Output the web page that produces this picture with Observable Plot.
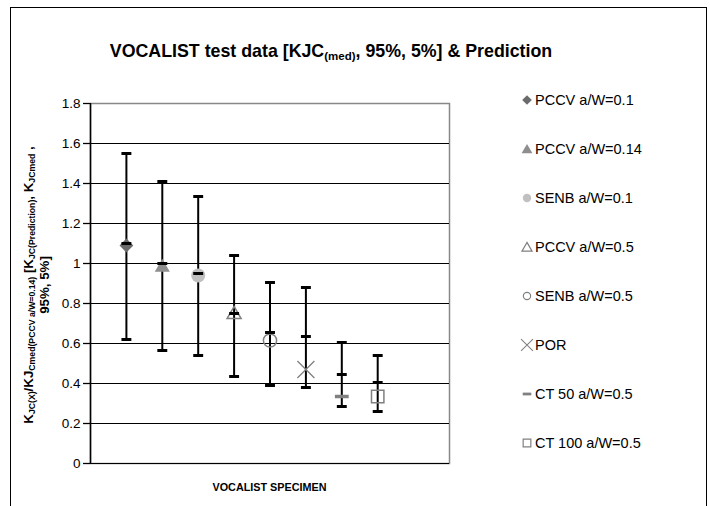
<!DOCTYPE html>
<html>
<head>
<meta charset="utf-8">
<script src="https://cdn.jsdelivr.net/npm/d3@7"></script>
<script src="https://cdn.jsdelivr.net/npm/@observablehq/plot@0.6"></script>
<style>
  body { margin: 0; background: #fff; font-family: "Liberation Sans", Arial, sans-serif; }
  #chart { position: relative; width: 710px; height: 506px; overflow: hidden; }
  #plot { position: absolute; left: 0; top: 0; }
  #frame { position: absolute; left: 10px; top: 7px; width: 697px; height: 540px;
           border: 1.5px solid #000; box-sizing: border-box; }
  #title { position: absolute; left: 0; width: 662px; top: 41px; text-align: center;
           font-weight: bold; font-size: 17.8px; white-space: nowrap; }
  #title sub { font-size: 11.5px; vertical-align: -3px; }
  #ylabel { position: absolute; left: 37px; top: 285px; width: 340px;
            transform: translate(-50%, -50%) rotate(-90deg);
            text-align: center; font-weight: bold; font-size: 13.3px; line-height: 16px; white-space: nowrap; }
  #ylabel sub { font-size: 8.7px; vertical-align: -2px; line-height: 0; }
  #xlabel { position: absolute; left: 90px; width: 359px; top: 481px; text-align: center;
            font-weight: bold; font-size: 10.8px; }
  #legend { position: absolute; left: 519px; top: 75px; font-size: 14.5px; }
  #legend .item { display: flex; align-items: center; height: 49px; }
  #legend svg { display: block; width: 16px; height: 16px; }
</style>
</head>
<body>
<div id="chart">
  <div id="plot"></div>
  <div id="frame"></div>
  <div id="title">VOCALIST test data [KJC<sub>(med)</sub>, 95%, 5%] &amp; Prediction</div>
  <div id="ylabel">K<sub>JC(X)</sub>/KJ<sub>Cmed(PCCV a/W=0.14)</sub> [K<sub>JC(Prediction)</sub>, K<sub>JCmed</sub> ,<br>95%, 5%]</div>
  <div id="xlabel">VOCALIST SPECIMEN</div>
  <div id="legend"></div>
</div>
<script>
// Specimen types along the x axis (positions 1..8)
const specimens = ["PCCV a/W=0.1", "PCCV a/W=0.14", "SENB a/W=0.1", "PCCV a/W=0.5",
                   "SENB a/W=0.5", "POR", "CT 50 a/W=0.5", "CT 100 a/W=0.5"];
// Normalised test data: median, 95% and 5% bounds
const testMedian = [1.09, 0.99, 0.94, 0.755, 0.615, 0.47, 0.335, 0.335];
const upper95    = [1.55, 1.41, 1.335, 1.04, 0.905, 0.88, 0.605, 0.54];
const lower5     = [0.62, 0.565, 0.54, 0.435, 0.39, 0.38, 0.285, 0.26];
// Predicted values
const prediction = [1.10, 1.00, 0.95, 0.75, 0.655, 0.635, 0.445, 0.405];
// y axis ticks
const yTicks = [0, 0.2, 0.4, 0.6, 0.8, 1, 1.2, 1.4, 1.6, 1.8];

// short horizontal bar symbol, used for caps, prediction ticks and the CT 50 marker
const dash = {
  draw(ctx, size) {
    const w = Math.sqrt(size);
    ctx.moveTo(-w / 2, 0);
    ctx.lineTo(w / 2, 0);
  }
};

// marker style per specimen type
const markerStyles = [
  {symbol: "diamond2", fill: "#6b6b6b", stroke: "none", r: 6.2},
  {symbol: "triangle", fill: "#8e8e8e", stroke: "none", r: 5.6, dy: 2},
  {symbol: "circle",   fill: "#c0c0c0", stroke: "none", r: 7},
  {symbol: "triangle", fill: "none", stroke: "#808080", strokeWidth: 1.5, r: 5.2, dy: 2},
  {symbol: "circle",   fill: "none", stroke: "#808080", strokeWidth: 1.5, r: 6.6},
  {symbol: "times",    fill: "none", stroke: "#808080", strokeWidth: 1.3, r: 7.8},
  {symbol: dash,       fill: "none", stroke: "#808080", strokeWidth: 3.5, r: 7.8},
  {symbol: "square",   fill: "none", stroke: "#808080", strokeWidth: 1.5, r: 7}
];
const d3Symbols = {
  diamond2: d3.symbolDiamond2, triangle: d3.symbolTriangle, circle: d3.symbolCircle,
  times: d3.symbolTimes, square: d3.symbolSquare
};

const rows = specimens.map((name, i) => ({
  name, pos: i + 1, med: testMedian[i], hi: upper95[i], lo: lower5[i], pred: prediction[i]
}));

const plot = Plot.plot({
  width: 710,
  height: 506,
  marginLeft: 90,
  marginRight: 261,
  marginTop: 103,
  marginBottom: 43,
  x: {domain: [0, 10], axis: null},
  y: {domain: [0, 1.8], axis: null},
  style: {fontFamily: "'Liberation Sans', Arial, sans-serif", fontSize: "13.5px", color: "#000", background: "transparent", overflow: "visible"},
  marks: [
    Plot.frame({stroke: "#888", strokeWidth: 1.5}),
    Plot.ruleY(yTicks.slice(0, -1), {stroke: "#000", strokeWidth: 1.2}),
    Plot.ruleX([0], {stroke: "#000", strokeWidth: 1.5}),
    Plot.axisY(yTicks, {tickSize: 7, tickPadding: 3, tickFormat: d3.format("~g"), strokeWidth: 1.3, label: null}),
    // 5%–95% range bars with caps
    Plot.ruleX(rows, {x: "pos", y1: "lo", y2: "hi", stroke: "#000", strokeWidth: 2}),
    Plot.dot(rows, {x: "pos", y: "hi", symbol: dash, r: 5.6, stroke: "#000", strokeWidth: 3}),
    Plot.dot(rows, {x: "pos", y: "lo", symbol: dash, r: 5.6, stroke: "#000", strokeWidth: 3}),
    // test medians
    ...rows.map((d, i) => Plot.dot([d], {x: "pos", y: "med", ...markerStyles[i]})),
    // predictions
    Plot.dot(rows, {x: "pos", y: "pred", symbol: dash, r: 5.6, stroke: "#000", strokeWidth: 3})
  ]
});
document.getElementById("plot").appendChild(plot);

// legend
const legend = d3.select("#legend");
const legendScale = [0.7, 0.72, 0.6, 0.72, 0.55, 0.7, 0.62, 0.62];
specimens.forEach((name, i) => {
  const s = markerStyles[i];
  const type = typeof s.symbol === "string" ? d3Symbols[s.symbol] : s.symbol;
  const r = s.r * legendScale[i];
  const item = legend.append("div").attr("class", "item");
  const svg = item.append("svg").attr("viewBox", "-8 -8 16 16");
  svg.append("path")
    .attr("d", d3.symbol(type, Math.PI * r * r)())
    .attr("fill", s.fill)
    .attr("stroke", s.stroke)
    .attr("stroke-width", (s.strokeWidth || 0) * 0.8)
    .attr("transform", s.dy ? `translate(0,${s.dy * 0.6})` : null);
  item.append("span").text(name);
});
</script>
</body>
</html>
